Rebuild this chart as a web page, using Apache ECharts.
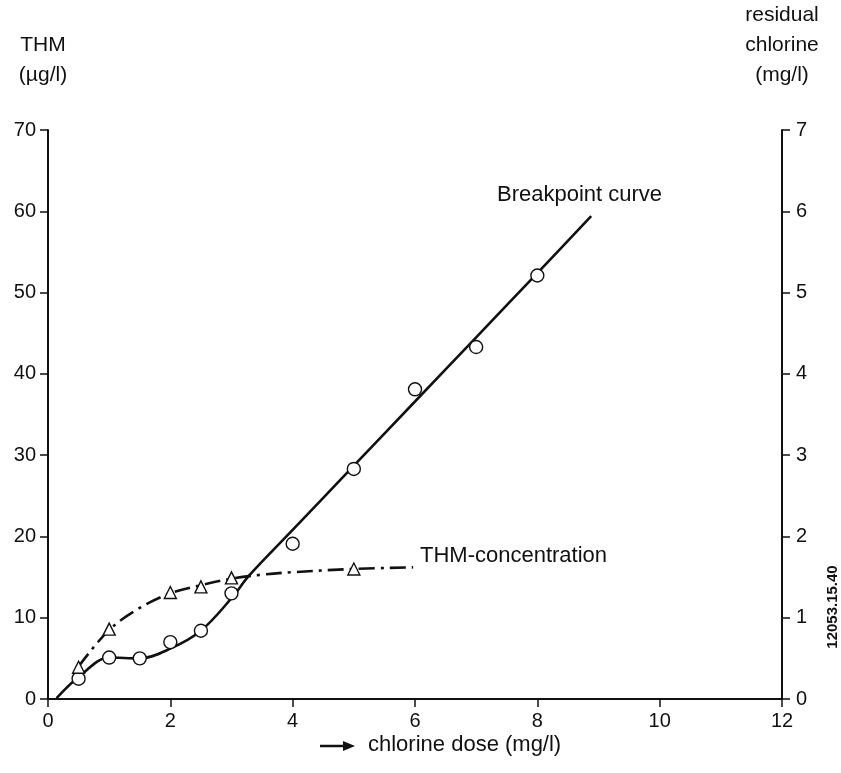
<!DOCTYPE html>
<html>
<head>
<meta charset="utf-8">
<script src="https://cdn.jsdelivr.net/npm/echarts@6/dist/echarts.min.js"></script>
<style>
  html, body { margin: 0; padding: 0; background: #fff; }
  #chart { width: 841px; height: 773px; }
</style>
</head>
<body>
<div id="chart"></div>
<script>
// ---- Data ----
// x: chlorine dose (mg/l)
const doseTicks = [0, 2, 4, 6, 8, 10, 12];
const thmTicks = [0, 10, 20, 30, 40, 50, 60, 70];
const residualTicks = [0, 1, 2, 3, 4, 5, 6, 7];

// Measured residual chlorine (mg/l), circles
const residualDose = [0.5, 1, 1.5, 2, 2.5, 3, 4, 5, 6, 7, 8];
const residualMeasured = [0.25, 0.51, 0.50, 0.70, 0.84, 1.30, 1.91, 2.83, 3.81, 4.33, 5.21];

// Fitted breakpoint curve (mg/l)
const breakpointDose = [0.14, 0.5, 1, 1.5, 2, 2.5, 3, 3.29, 4, 5, 6, 7, 8, 8.88];
const breakpointCurve = [0.01, 0.27, 0.51, 0.50, 0.62, 0.84, 1.24, 1.52, 2.08, 2.87, 3.66, 4.45, 5.24, 5.94];

// Measured THM (µg/l), triangles
const thmDose = [0.5, 1, 2, 2.5, 3, 5];
const thmMeasured = [3.9, 8.6, 13.1, 13.8, 14.9, 16.0];

// Fitted THM-concentration curve (µg/l)
const thmCurveDose = [0.5, 1, 1.5, 2, 2.5, 3, 3.5, 4, 5, 5.97];
const thmCurve = [4.0, 8.5, 11.2, 13.0, 14.0, 14.8, 15.3, 15.6, 16.0, 16.2];

const pair = (xs, ys) => xs.map((x, i) => [x, ys[i]]);

const FONT = "'Liberation Sans', Arial, Helvetica, sans-serif";
const INK = '#111';

const chart = echarts.init(document.getElementById('chart'), null, { renderer: 'canvas' });

const axisCommon = {
  axisLine: { show: true, lineStyle: { color: INK, width: 2 } },
  axisTick: { show: true, length: 8, lineStyle: { color: INK, width: 1.5 } },
  splitLine: { show: false },
  axisLabel: { color: INK, fontFamily: FONT, fontSize: 20 }
};

chart.setOption({
  animation: false,
  backgroundColor: '#fff',
  grid: { left: 48, right: 59, top: 127, bottom: 74 },
  xAxis: Object.assign({}, axisCommon, {
    type: 'value',
    min: doseTicks[0],
    max: doseTicks[doseTicks.length - 1],
    interval: 2,
    axisLabel: Object.assign({}, axisCommon.axisLabel, { margin: 12 })
  }),
  yAxis: [
    Object.assign({}, axisCommon, {
      type: 'value',
      position: 'left',
      min: thmTicks[0],
      max: thmTicks[thmTicks.length - 1],
      interval: 10,
      name: 'THM\n(µg/l)',
      nameLocation: 'end',
      nameGap: 40,
      nameTextStyle: { color: INK, fontFamily: FONT, fontSize: 21, lineHeight: 30, align: 'center', padding: [0, 10, 0, 0] },
      axisLabel: Object.assign({}, axisCommon.axisLabel, { margin: 12 })
    }),
    Object.assign({}, axisCommon, {
      type: 'value',
      position: 'right',
      min: residualTicks[0],
      max: residualTicks[residualTicks.length - 1],
      interval: 1,
      name: 'residual\nchlorine\n(mg/l)',
      nameLocation: 'end',
      nameGap: 40,
      nameTextStyle: { color: INK, fontFamily: FONT, fontSize: 21, lineHeight: 30, align: 'center' },
      axisLabel: Object.assign({}, axisCommon.axisLabel, { margin: 14 })
    })
  ],
  series: [
    {
      name: 'Breakpoint curve',
      type: 'line',
      yAxisIndex: 1,
      smooth: 0.35,
      showSymbol: false,
      lineStyle: { color: INK, width: 2.6 },
      data: pair(breakpointDose, breakpointCurve),
      z: 2
    },
    {
      name: 'THM-concentration',
      type: 'line',
      yAxisIndex: 0,
      smooth: 0.35,
      showSymbol: false,
      lineStyle: { color: INK, width: 2.6, type: [16, 6, 3, 6] },
      data: pair(thmCurveDose, thmCurve),
      z: 2
    },
    {
      name: 'Residual chlorine (measured)',
      type: 'scatter',
      yAxisIndex: 1,
      symbol: 'circle',
      symbolSize: 13,
      itemStyle: { color: '#fff', borderColor: INK, borderWidth: 1.4, opacity: 1 },
      data: pair(residualDose, residualMeasured),
      z: 5
    },
    {
      name: 'THM (measured)',
      type: 'scatter',
      yAxisIndex: 0,
      symbol: 'triangle',
      symbolSize: 12,
      itemStyle: { color: '#fff', borderColor: INK, borderWidth: 1.4, opacity: 1 },
      data: pair(thmDose, thmMeasured),
      z: 5
    }
  ],
  graphic: [
    {
      type: 'text', left: 497, top: 184,
      style: { text: 'Breakpoint curve', fill: INK, font: "22px 'Liberation Sans', Arial, sans-serif" }
    },
    {
      type: 'text', left: 420, top: 545,
      style: { text: 'THM-concentration', fill: INK, font: "22px 'Liberation Sans', Arial, sans-serif" }
    },
    {
      type: 'line',
      shape: { x1: 320, y1: 746, x2: 346, y2: 746 },
      style: { stroke: INK, lineWidth: 2.5 }
    },
    {
      type: 'polygon',
      shape: { points: [[343, 741], [355, 746], [343, 751]] },
      style: { fill: INK }
    },
    {
      type: 'text', left: 368, top: 734,
      style: { text: 'chlorine dose (mg/l)', fill: INK, font: "22px 'Liberation Sans', Arial, sans-serif" }
    },
    {
      type: 'text', x: 833, y: 607, rotation: Math.PI / 2,
      style: { text: '12053.15.40', fill: INK, font: "bold 15px 'Liberation Sans', Arial, sans-serif", align: 'center', verticalAlign: 'middle' }
    }
  ]
});
</script>
</body>
</html>
